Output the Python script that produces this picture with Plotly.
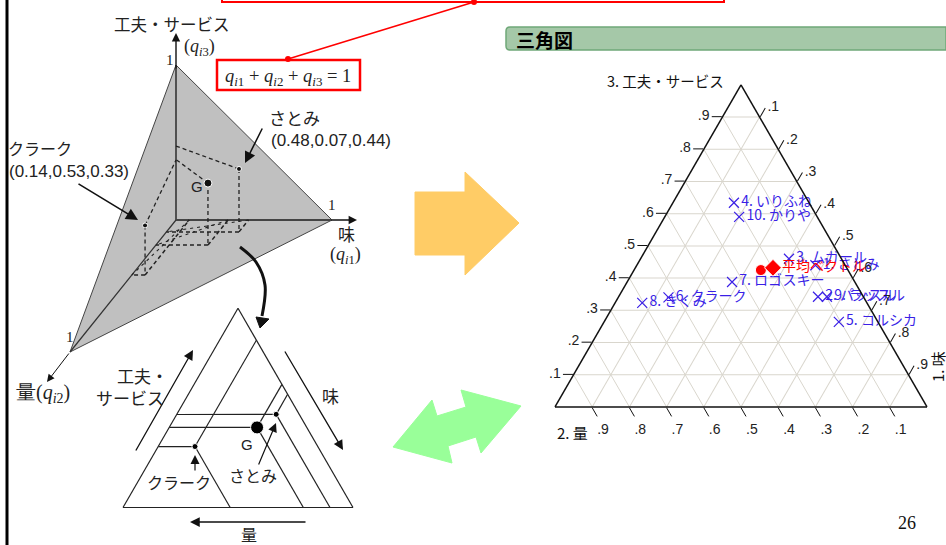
import plotly.graph_objects as go

W, H = 946, 545
JP = "Noto Sans CJK JP"
SERIF = "Liberation Serif"
SANS = "Liberation Sans"
INK = "#222222"
BLUE = "#3a1fe6"
RED = "#ff0000"

# right chart: positions
shop_labels = ["1. さとみ", "2. パッスル", "3. ムガール", "4. いりふね", "5. コルシカ",
               "6. クラーク", "7. ロゴスキー", "8. きくみ", "9. ラッスル", "10. かりや"]
shop_taste = [0.48, 0.536, 0.399, 0.164, 0.631, 0.135, 0.282, 0.073, 0.56, 0.20]
shop_amount = [0.08, 0.122, 0.141, 0.202, 0.105, 0.525, 0.33, 0.604, 0.098, 0.21]
shop_service = [0.44, 0.342, 0.46, 0.634, 0.264, 0.34, 0.388, 0.323, 0.342, 0.59]

mean_label = "平均ベクトル"
mean_taste = [0.341, 0.37]
mean_amount = [0.234, 0.198]
mean_service = [0.425, 0.432]

tick_vals = [0.1, 0.2, 0.3, 0.4, 0.5, 0.6, 0.7, 0.8, 0.9]
tick_text = [".1", ".2", ".3", ".4", ".5", ".6", ".7", ".8", ".9"]

# small triangle: クラーク, G, さとみ
tri_names = ["クラーク", "G", "さとみ"]
tri_taste = [0.16, 0.382, 0.4315]
tri_amount = [0.534, 0.216, 0.10]
tri_service = [0.306, 0.402, 0.467]
tri_sizes = [6, 13, 6]

# 3D sketch: same three points as drawn
sk_taste = [0.085, 0.334, 0.465]
sk_amount = [0.417, 0.19, 0.09]
sk_service = [0.32, 0.40, 0.406]
sk_service_axis = [0.387, 0.39, 0.477]

# oblique projection of the 3D axes on the page
O = (176, 220)
E1 = (156, 0)
E2 = (-106, 132)
E3 = (0, -155)


def proj(q1, q2, q3):
    return (O[0] + q1 * E1[0] + q2 * E2[0] + q3 * E3[0],
            O[1] + q1 * E1[1] + q2 * E2[1] + q3 * E3[1])


def segment(fig, p, q, width=1.3, dash="4px,3px", color=INK):
    fig.add_trace(go.Scatter(x=[p[0], q[0]], y=[p[1], q[1]], mode="lines",
                             line=dict(color=color, width=width, dash=dash),
                             hoverinfo="skip", showlegend=False))


def poly(fig, pts, color, line=None):
    xs = [p[0] for p in pts] + [pts[0][0]]
    ys = [p[1] for p in pts] + [pts[0][1]]
    fig.add_trace(go.Scatter(x=xs, y=ys, mode="lines", fill="toself", fillcolor=color,
                             line=dict(color=line or color, width=1),
                             hoverinfo="skip", showlegend=False))


fig = go.Figure()

# big arrows
poly(fig, [(415, 192), (465, 192), (465, 172), (519, 223), (465, 275), (465, 255), (415, 255)], "#ffcc66")
poly(fig, [(393, 447), (432, 400), (437, 416), (466, 407), (461, 390), (521, 406),
           (481, 453), (476, 437), (448, 446), (452, 463)], "#99ff99")

# shaded plane of the 3D sketch
poly(fig, [proj(1, 0, 0), proj(0, 1, 0), proj(0, 0, 1)], "#c0c0c0", "#444444")
segment(fig, O, proj(0, 1, 0), width=1.2, dash="solid", color="#333333")
segment(fig, O, proj(0, 0, 1), width=1.8, dash="solid", color="#444444")
segment(fig, O, proj(1, 0, 0), width=1.8, dash="solid", color="#444444")

for q1, q2, q3, q3a in zip(sk_taste, sk_amount, sk_service, sk_service_axis):
    p = proj(q1, q2, q3)
    foot = proj(q1, q2, 0)
    segment(fig, p, proj(0, 0, q3a))
    segment(fig, p, foot)
    segment(fig, foot, proj(q1, 0, 0), width=1.5)
    segment(fig, foot, proj(0, q2, 0), width=1.5)
    segment(fig, proj(q1, 0, 0), proj(0, q2, 0), width=1.1, dash="3px,4px")

sk_pts = [proj(a, b, c) for a, b, c in zip(sk_taste, sk_amount, sk_service)]
fig.add_trace(go.Scatter(x=[p[0] for p in sk_pts], y=[p[1] for p in sk_pts], mode="markers",
                         marker=dict(color="#111111", size=[5, 8, 5], opacity=1),
                         hoverinfo="skip", showlegend=False))

# curved arrow between the sketch and the small triangle
fig.add_trace(go.Scatter(x=[240, 256, 265, 262], y=[247, 262, 285, 316], mode="lines",
                         line=dict(color="#111111", width=3, shape="spline"),
                         hoverinfo="skip", showlegend=False))
poly(fig, [(256, 317), (269, 319), (260, 328)], "#111111")

# red callout line
fig.add_trace(go.Scatter(x=[474, 288], y=[2, 59], mode="lines+markers",
                         line=dict(color=RED, width=1.6), marker=dict(color=RED, size=6),
                         hoverinfo="skip", showlegend=False))


def ternary_axis(text=tick_text):
    return dict(min=0, title=dict(text=""), tickmode="array", tickvals=tick_vals, ticktext=text,
                ticks="outside", ticklen=10, tickwidth=1, tickcolor="#111111",
                tickfont=dict(family=SANS, size=14, color=INK),
                showgrid=True, gridcolor="#d9d6cd", gridwidth=1.3,
                showline=True, linecolor="#111111", linewidth=1.5)


def plain_axis():
    return dict(min=0, title=dict(text=""), ticks="", showticklabels=False, showgrid=False,
                showline=True, linecolor="#222222", linewidth=1.2)


# right ternary chart
fig.add_trace(go.Scatterternary(a=shop_service, b=shop_amount, c=shop_taste, subplot="ternary",
                                mode="markers+text", text=shop_labels, textposition="middle right",
                                textfont=dict(family=JP, size=14, color=BLUE), cliponaxis=False,
                                marker=dict(symbol="x-thin", size=10, line=dict(color=BLUE, width=1.2)),
                                hoverinfo="skip", showlegend=False))
fig.add_trace(go.Scatterternary(a=mean_service, b=mean_amount, c=mean_taste, subplot="ternary",
                                mode="markers+text", text=["", mean_label], textposition="middle right",
                                textfont=dict(family=JP, size=14, color=RED), cliponaxis=False,
                                marker=dict(symbol=["circle", "diamond"], size=[11, 13], color=RED, opacity=1),
                                hoverinfo="skip", showlegend=False))

# small triangle: each point has its three lines of constant share
for a, b, c in zip(tri_service, tri_amount, tri_taste):
    fig.add_trace(go.Scatterternary(a=[a, a], b=[1 - a, b], c=[0, c], subplot="ternary2", mode="lines",
                                    line=dict(color="#222222", width=1.2), hoverinfo="skip", showlegend=False))
    fig.add_trace(go.Scatterternary(a=[0, a], b=[b, b], c=[1 - b, c], subplot="ternary2", mode="lines",
                                    line=dict(color="#222222", width=1.2), hoverinfo="skip", showlegend=False))
    fig.add_trace(go.Scatterternary(a=[1 - c, a], b=[0, b], c=[c, c], subplot="ternary2", mode="lines",
                                    line=dict(color="#222222", width=1.2), hoverinfo="skip", showlegend=False))
fig.add_trace(go.Scatterternary(a=tri_service, b=tri_amount, c=tri_taste, subplot="ternary2", mode="markers",
                                marker=dict(color="#000000", size=tri_sizes, opacity=1),
                                hoverinfo="skip", showlegend=False))


def label(x, y, text, size=16, family=JP, color=INK, angle=0, anchor="center"):
    fig.add_annotation(x=x, y=y, text=text, showarrow=False, xanchor=anchor, yanchor="middle",
                       textangle=angle, font=dict(family=family, size=size, color=color))


def arrow(x0, y0, x1, y1, width=1.3, head=2, size=1.5):
    fig.add_annotation(x=x1, y=y1, ax=x0, ay=y0, axref="x", ayref="y", text="", showarrow=True,
                       arrowhead=head, arrowsize=size, arrowwidth=width, arrowcolor="#111111")


# axes arrowheads of the sketch
arrow(176, 70, 176, 33, width=1.4, size=1.2)
arrow(330, 220, 357, 220, width=1.4, size=1.2)
arrow(70, 352, 47, 382, width=1)

# leader arrows
arrow(263, 127, 245, 163, width=1.5)
arrow(77, 183, 138, 220, width=1.6)
arrow(135, 452, 193, 350, width=1.3)
arrow(284, 350, 343, 450, width=1.3)
arrow(307, 522, 190, 522, width=1.3)
arrow(195, 472, 195, 455, width=1.2)
arrow(258, 466, 276, 423, width=1.2)

# text of the 3D sketch
label(172, 24, "工夫・サービス", 16.5)
label(199, 47, "(<i>q</i><sub><i>i</i>3</sub>)", 18, SERIF)
label(170, 60, "1", 15, SERIF)
label(294, 117, "さとみ", 17)
label(331, 140, "(0.48,0.07,0.44)", 17, SANS)
label(40, 148, "クラーク", 16)
label(69, 171, "(0.14,0.53,0.33)", 17, SANS)
label(197, 186, "G", 15, SANS)
label(332, 205, "1", 15, SERIF)
label(346, 233, "味", 17)
label(345, 255, "(<i>q</i><sub><i>i</i>1</sub>)", 18, SERIF)
label(70, 337, "1", 15, SERIF)
label(43, 393, "量(<i>q</i><sub><i>i</i>2</sub>)", 20, SERIF)
label(288, 77, "<i>q</i><sub><i>i</i>1</sub> + <i>q</i><sub><i>i</i>2</sub> + <i>q</i><sub><i>i</i>3</sub> = 1", 18.5, SERIF)

# text of the small triangle
label(142, 375, "工夫・", 17)
label(130, 397, "サービス", 17)
label(330, 395, "味", 17)
label(249, 534, "量", 16)
label(247, 444, "G", 15, SANS)
label(179, 482, "クラーク", 16)
label(253, 475, "さとみ", 16)

# text of the right side
label(514, 39, "<b>三角図</b>", 19, JP, "#000000", anchor="left")
label(605, 80, "3. 工夫・サービス", 14.5, JP, "#111111", anchor="left")
label(555, 432, "2. 量", 15, JP, "#111111", anchor="left")
label(937, 367, "1. 味", 15, JP, "#111111", angle=-90)
label(907, 523, "26", 18, SERIF, "#111111")

header = "M 510 27 L 946 27 L 946 50 L 510 50 Q 506 50 506 46 L 506 31 Q 506 27 510 27 Z"
# bottom tick labels sit a little right of their ticks in the reference
b_tick_text = ["\u00a0\u00a0\u00a0" + t for t in tick_text]
fig.update_layout(
    width=W, height=H, margin=dict(l=0, r=0, t=0, b=0), paper_bgcolor="white", plot_bgcolor="white",
    showlegend=False,
    xaxis=dict(range=[0, W], visible=False, fixedrange=True),
    yaxis=dict(range=[H, 0], visible=False, fixedrange=True),
    shapes=[
        dict(type="line", x0=7, x1=7, y0=0, y1=H, line=dict(color="#000000", width=3)),
        dict(type="rect", x0=222, x1=724, y0=-3, y1=2, line=dict(color=RED, width=2), fillcolor="rgba(0,0,0,0)"),
        dict(type="rect", x0=217, x1=360, y0=60, y1=90, line=dict(color=RED, width=2.5), fillcolor="white", layer="below"),
        dict(type="path", path=header, line=dict(color="#6fa878", width=1.5), fillcolor="#a5c8a8", layer="below"),
    ],
    ternary=dict(
        domain=dict(x=[555 / W, 927 / W], y=[(H - 407) / H, (H - 85 + 0.2) / H]),
        bgcolor="rgba(0,0,0,0)", sum=1,
        aaxis=ternary_axis(), baxis=ternary_axis(b_tick_text), caxis=ternary_axis(),
    ),
    ternary2=dict(
        domain=dict(x=[123 / W, 353 / W], y=[(H - 508) / H, (H - 308 + 0.2) / H]),
        bgcolor="rgba(0,0,0,0)", sum=1,
        aaxis=plain_axis(), baxis=plain_axis(), caxis=plain_axis(),
    ),
)

fig.write_html("out.html", config={"displayModeBar": False},
               post_script="document.body.style.margin = '0';")
